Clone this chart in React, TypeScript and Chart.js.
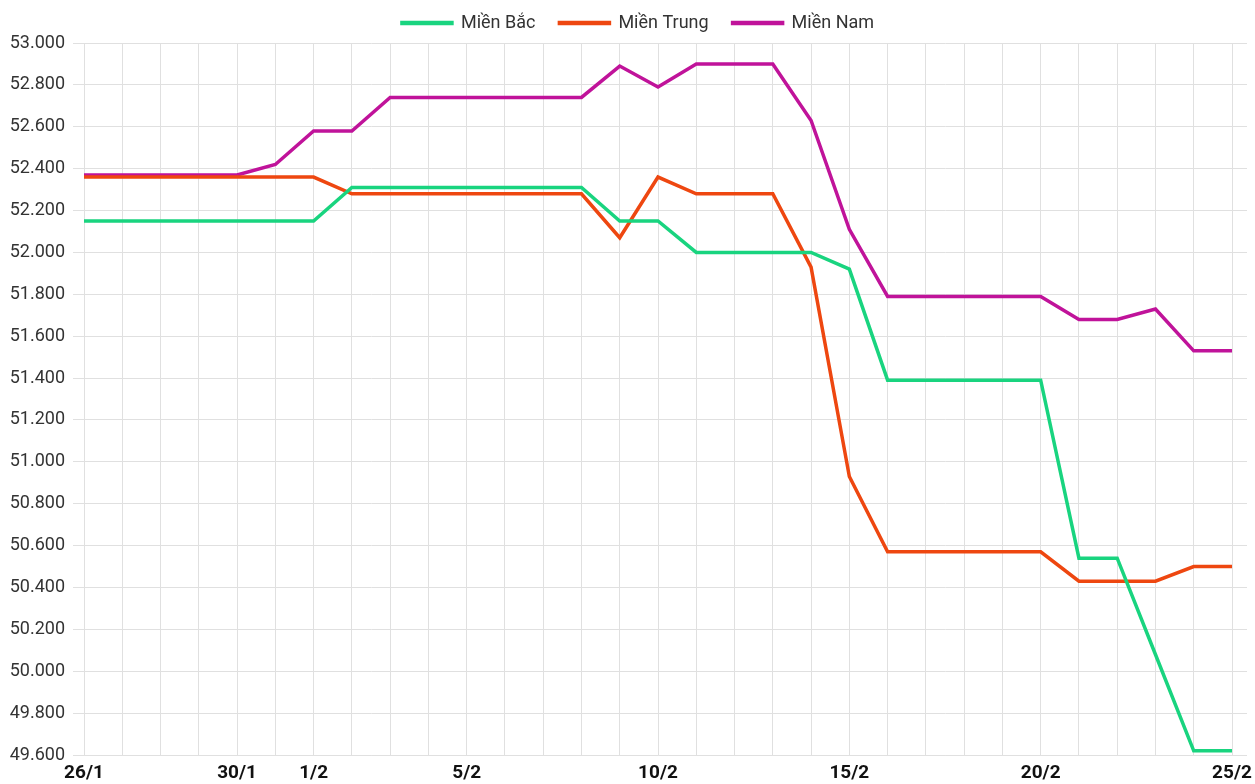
import React, { useEffect, useRef } from 'react';
import { Chart, registerables } from 'chart.js';

Chart.register(...registerables);

const dayLabels = [
  '26/1', '27/1', '28/1', '29/1', '30/1', '31/1',
  '1/2', '2/2', '3/2', '4/2', '5/2', '6/2', '7/2', '8/2', '9/2', '10/2',
  '11/2', '12/2', '13/2', '14/2', '15/2', '16/2', '17/2', '18/2', '19/2', '20/2',
  '21/2', '22/2', '23/2', '24/2', '25/2',
];

const shownLabels = ['26/1', '30/1', '1/2', '5/2', '10/2', '15/2', '20/2', '25/2'];

const mienBac = [
  52150, 52150, 52150, 52150, 52150, 52150, 52150,
  52310, 52310, 52310, 52310, 52310, 52310, 52310,
  52150, 52150,
  52000, 52000, 52000, 52000,
  51920,
  51390, 51390, 51390, 51390, 51390,
  50540, 50540,
  50080,
  49620, 49620,
];

const mienTrung = [
  52360, 52360, 52360, 52360, 52360, 52360, 52360,
  52280, 52280, 52280, 52280, 52280, 52280, 52280,
  52070,
  52360,
  52280, 52280, 52280,
  51930,
  50930,
  50570, 50570, 50570, 50570, 50570,
  50430, 50430, 50430,
  50500, 50500,
];

const mienNam = [
  52370, 52370, 52370, 52370, 52370,
  52420,
  52580, 52580,
  52740, 52740, 52740, 52740, 52740, 52740,
  52890,
  52790,
  52900, 52900, 52900,
  52630,
  52110,
  51790, 51790, 51790, 51790, 51790,
  51680, 51680,
  51730,
  51530, 51530,
];

const seriesNames = ['Miền Bắc', 'Miền Trung', 'Miền Nam'];
const seriesColors = ['#19d47f', '#ee4710', '#c0139a'];

const Y_MIN = 49600;
const Y_MAX = 53000;
const Y_STEP = 200;

const GRID = '#e0e0e0';
const FONT = 'Roboto';

function fmt(v: number): string {
  return String(Math.round(v)).replace(/\B(?=(\d{3})+(?!\d))/g, '.');
}

export default function App() {
  const ref = useRef<HTMLCanvasElement | null>(null);

  useEffect(() => {
    document.body.style.margin = '0';
    const canvas = ref.current;
    if (!canvas) return;

    const legendTweak = {
      id: 'legendTweak',
      beforeInit(chart: any) {
        const orig = chart.legend.fit;
        chart.legend.fit = function () {
          orig.call(this);
          this.height = 43;
        };
      },
      afterLayout(chart: any) {
        const lg = chart.legend;
        lg.top = -10;
        lg.bottom = 33;
        lg.left = 21;
        lg.right = 1255;
      },
    };

    const series = [mienBac, mienTrung, mienNam];

    const chart = new Chart(canvas, {
      type: 'line',
      data: {
        labels: dayLabels,
        datasets: series.map((d, i) => ({
          label: seriesNames[i],
          data: d,
          borderColor: seriesColors[i],
          backgroundColor: seriesColors[i],
          borderWidth: 3.5,
          pointRadius: 0,
          pointHoverRadius: 0,
          tension: 0,
          fill: false,
        })),
      },
      options: {
        animation: false,
        responsive: true,
        maintainAspectRatio: false,
        layout: { padding: 0 },
        plugins: {
          legend: {
            position: 'top',
            labels: {
              boxWidth: 50,
              boxHeight: 1,
              padding: 24,
              color: '#333',
              font: { family: FONT, size: 18 },
            },
          },
          tooltip: { enabled: false },
        },
        scales: {
          x: {
            grid: { color: GRID, drawTicks: false },
            border: { color: GRID },
            ticks: {
              autoSkip: false,
              maxRotation: 0,
              minRotation: 0,
              padding: 7,
              color: '#111',
              font: { family: FONT, size: 19, weight: 'bold' },
              callback: (_v: any, idx: number) =>
                shownLabels.includes(dayLabels[idx]) ? dayLabels[idx] : '',
            },
            afterFit: (s: any) => {
              s.height = 29;
              s.paddingLeft = 0;
              s.paddingRight = 0;
            },
          },
          y: {
            min: Y_MIN,
            max: Y_MAX,
            grid: { color: GRID, tickLength: 11 },
            border: { color: GRID },
            ticks: {
              stepSize: Y_STEP,
              padding: 8,
              color: '#333',
              font: { family: FONT, size: 18 },
              callback: (v: any) => fmt(Number(v)),
            },
            afterFit: (s: any) => {
              s.width = 84;
            },
          },
          y2: {
            position: 'right',
            min: Y_MIN,
            max: Y_MAX,
            grid: { color: GRID, drawOnChartArea: false, tickLength: 15 },
            border: { display: false },
            ticks: { display: false, stepSize: Y_STEP },
            afterFit: (s: any) => {
              s.width = 23;
            },
          },
        },
      },
      plugins: [legendTweak],
    } as any);

    return () => chart.destroy();
  }, []);

  return (
    <div style={{ position: 'relative', width: 1255, height: 784 }}>
      <canvas ref={ref} />
    </div>
  );
}
